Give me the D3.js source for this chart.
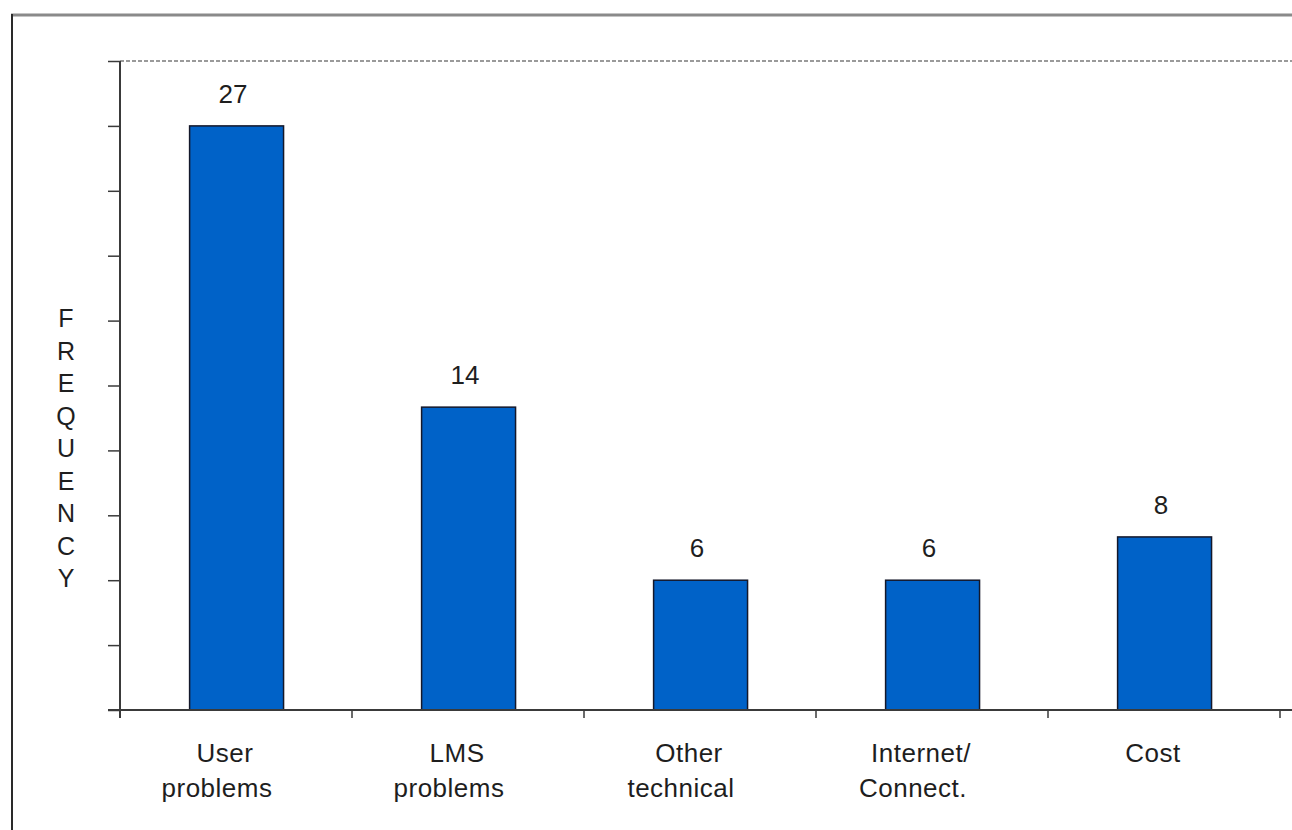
<!DOCTYPE html>
<html>
<head>
<meta charset="utf-8">
<script src="https://cdn.jsdelivr.net/npm/d3@7"></script>
<style>
    body { margin: 0; background: #fff; }
    text { font-family: "Liberation Sans", Arial, sans-serif; fill: #1e1e1e; }
</style>
</head>
<body>
<svg id="chart" xmlns="http://www.w3.org/2000/svg"></svg>
<script>
// chart data
const categories = ['User problems', 'LMS problems', 'Other technical', 'Internet/ Connect.', 'Cost'];
const categoryLines = [['User', 'problems'], ['LMS', 'problems'], ['Other', 'technical'], ['Internet/', 'Connect.'], ['Cost']];
const frequencies = [27, 14, 6, 6, 8];
const yTickValues = [0, 3, 6, 9, 12, 15, 18, 21, 24, 27, 30];
const yAxisLetters = ['F', 'R', 'E', 'Q', 'U', 'E', 'N', 'C', 'Y'];

const width = 1292;
const height = 830;
const plot = {left: 120, right: 1280, top: 61, bottom: 710};
const barColor = '#0062c8';
const axisColor = '#3a3a3a';
// category labels sit a little left of the bar centre in the original
const lineShift = [-11, -19];

const svg = d3.select('#chart')
    .attr('width', width)
    .attr('height', height);

// outer frame (cropped on right and bottom)
svg.append('line')
    .attr('x1', 11).attr('x2', width)
    .attr('y1', 15).attr('y2', 15)
    .attr('stroke', '#8a8a8a')
    .attr('stroke-width', 3);
svg.append('line')
    .attr('x1', 12).attr('x2', 12)
    .attr('y1', 14).attr('y2', height)
    .attr('stroke', '#2a2a2a')
    .attr('stroke-width', 2);

const x = d3.scaleBand()
    .domain(categories)
    .range([plot.left, plot.right]);

const y = d3.scaleLinear()
    .domain([0, 30])
    .range([plot.bottom, plot.top]);

// dashed plot-area top border
svg.append('line')
    .attr('x1', plot.left).attr('x2', width)
    .attr('y1', y(30)).attr('y2', y(30))
    .attr('stroke', '#9a9a9a')
    .attr('stroke-width', 2)
    .attr('stroke-dasharray', '4,2');

// y axis
const yAxis = svg.append('g')
    .attr('transform', `translate(${plot.left},0)`)
    .call(d3.axisLeft(y).tickValues(yTickValues).tickSize(12).tickFormat(''));
yAxis.select('.domain').remove();
yAxis.selectAll('.tick line').attr('stroke', axisColor).attr('stroke-width', 1.5);

svg.append('line')
    .attr('x1', plot.left).attr('x2', plot.left)
    .attr('y1', y(30)).attr('y2', plot.bottom + 8)
    .attr('stroke', axisColor)
    .attr('stroke-width', 2);

// bars
const barG = svg.append('g')
    .selectAll('g')
    .data(categories.map((c, i) => ({name: c, value: frequencies[i], lines: categoryLines[i]})))
    .enter()
    .append('g');

barG.append('rect')
    .attr('x', d => x(d.name) + x.bandwidth() * 0.3)
    .attr('y', d => y(d.value))
    .attr('width', x.bandwidth() * 0.405)
    .attr('height', d => y(0) - y(d.value))
    .attr('fill', barColor)
    .attr('stroke', '#14182a')
    .attr('stroke-width', 1.5);

barG.append('text')
    .attr('x', d => x(d.name) + x.bandwidth() * 0.5 - 3)
    .attr('y', d => y(d.value) - 23)
    .attr('text-anchor', 'middle')
    .style('font-size', '26px')
    .text(d => d.value);

barG.each(function (d) {
    const t = d3.select(this).append('text')
        .attr('text-anchor', 'middle')
        .style('font-size', '26px')
        .style('letter-spacing', '0.5px');
    d.lines.forEach((line, j) => {
        t.append('tspan')
            .attr('x', x(d.name) + x.bandwidth() * 0.5 + lineShift[j])
            .attr('y', plot.bottom + 52 + j * 35)
            .text(line);
    });
});

// x axis
const xTicks = categories.map(c => x(c)).concat([x.range()[1]]);
svg.append('g')
    .selectAll('line')
    .data(xTicks)
    .enter()
    .append('line')
    .attr('x1', d => d).attr('x2', d => d)
    .attr('y1', plot.bottom).attr('y2', plot.bottom + 8)
    .attr('stroke', axisColor)
    .attr('stroke-width', 1.5);

svg.append('line')
    .attr('x1', plot.left - 12).attr('x2', width)
    .attr('y1', y(0)).attr('y2', y(0))
    .attr('stroke', axisColor)
    .attr('stroke-width', 2);

// vertical axis title, stacked letters
svg.append('g')
    .selectAll('text')
    .data(yAxisLetters)
    .enter()
    .append('text')
    .attr('x', 66)
    .attr('y', (d, i) => 327 + i * 32.5)
    .attr('text-anchor', 'middle')
    .style('font-size', '25px')
    .text(d => d);
</script>
</body>
</html>
